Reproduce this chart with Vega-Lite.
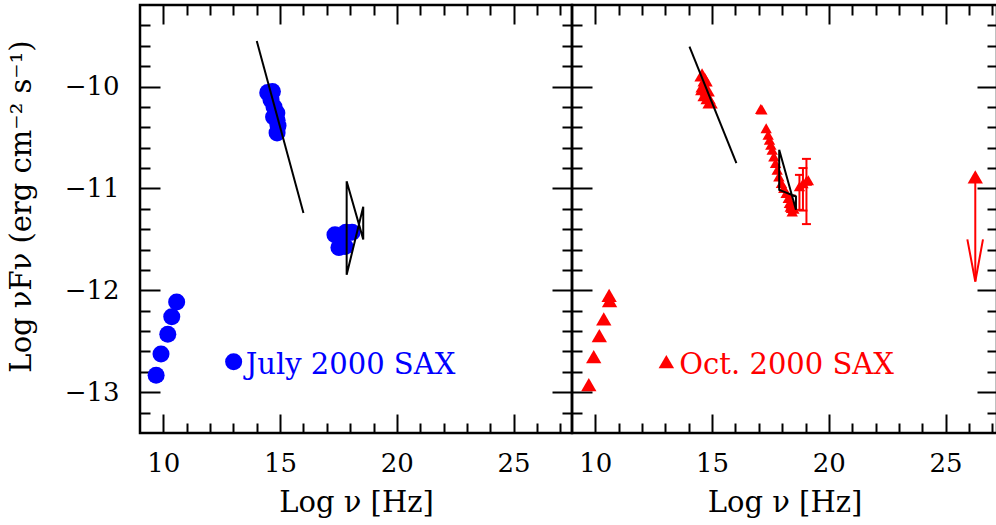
{
  "$schema": "https://vega.github.io/schema/vega-lite/v6.json",
  "background": "white",
  "padding": {"left": 5, "top": 2, "right": 0, "bottom": 0},
  "spacing": 0,
  "bounds": "flush",
  "datasets": {
    "jpts": [
      {"x": 9.69, "y": -12.834}, {"x": 9.9, "y": -12.625}, {"x": 10.19, "y": -12.43}, {"x": 10.36, "y": -12.26}, {"x": 10.57, "y": -12.115},
      {"x": 14.47, "y": -10.06}, {"x": 14.67, "y": -10.05}, {"x": 14.61, "y": -10.131}, {"x": 14.74, "y": -10.2}, {"x": 14.86, "y": -10.26},
      {"x": 14.87, "y": -10.33}, {"x": 14.91, "y": -10.386}, {"x": 14.87, "y": -10.455}, {"x": 14.72, "y": -10.3},
      {"x": 17.35, "y": -11.455}, {"x": 17.61, "y": -11.5}, {"x": 17.82, "y": -11.43}, {"x": 18.08, "y": -11.43}, {"x": 17.52, "y": -11.58}, {"x": 17.78, "y": -11.57}
    ],
    "jleg": [{"x": 13.01, "y": -12.7, "label": "July 2000 SAX"}],
    "jlines": [
      {"seg": "a", "o": 1, "x": 14.0, "y": -9.553}, {"seg": "a", "o": 2, "x": 16.0, "y": -11.242},
      {"seg": "b", "o": 1, "x": 17.85, "y": -10.93}, {"seg": "b", "o": 2, "x": 18.56, "y": -11.5}, {"seg": "b", "o": 3, "x": 18.56, "y": -11.18},
      {"seg": "b", "o": 4, "x": 17.85, "y": -11.847}, {"seg": "b", "o": 5, "x": 17.85, "y": -10.93}
    ],
    "obig": [
      {"x": 9.72, "y": -12.925}, {"x": 9.93, "y": -12.65}, {"x": 10.17, "y": -12.445}, {"x": 10.36, "y": -12.28}, {"x": 10.59, "y": -12.05}, {"x": 10.61, "y": -12.1},
      {"x": 14.57, "y": -9.886}, {"x": 14.7, "y": -9.935}, {"x": 14.615, "y": -9.994}, {"x": 14.79, "y": -10.033}, {"x": 14.7, "y": -10.08},
      {"x": 14.915, "y": -10.15}, {"x": 14.83, "y": -10.11}, {"x": 14.6, "y": -10.02},
      {"x": 26.27, "y": -10.886}
    ],
    "osmall": [
      {"x": 17.08, "y": -10.22}, {"x": 17.13, "y": -10.225},
      {"x": 17.315, "y": -10.409}, {"x": 17.4, "y": -10.475}, {"x": 17.457, "y": -10.524}, {"x": 17.515, "y": -10.573},
      {"x": 17.573, "y": -10.622}, {"x": 17.645, "y": -10.687}, {"x": 17.716, "y": -10.752}, {"x": 17.787, "y": -10.818},
      {"x": 17.859, "y": -10.883}, {"x": 17.97, "y": -10.948}, {"x": 18.07, "y": -10.997}, {"x": 18.17, "y": -11.046},
      {"x": 18.26, "y": -11.095}, {"x": 18.31, "y": -11.144}, {"x": 18.4, "y": -11.193}, {"x": 18.43, "y": -11.226},
      {"x": 18.35, "y": -11.18}, {"x": 18.39, "y": -11.15}, {"x": 18.5, "y": -11.2},
      {"x": 18.74, "y": -10.98}, {"x": 18.89, "y": -10.95}, {"x": 19.04, "y": -10.925}, {"x": 19.12, "y": -10.92}
    ],
    "oerr": [
      {"x": 18.39, "lo": -11.23, "hi": -11.07},
      {"x": 18.74, "lo": -11.21, "hi": -10.867},
      {"x": 18.89, "lo": -11.217, "hi": -10.8},
      {"x": 19.04, "lo": -11.35, "hi": -10.71}
    ],
    "oleg": [{"x": 13.04, "y": -12.7, "label": "Oct. 2000 SAX"}],
    "olines": [
      {"seg": "a", "o": 1, "x": 14.03, "y": -9.609}, {"seg": "a", "o": 2, "x": 16.04, "y": -10.752},
      {"seg": "b", "o": 1, "x": 17.873, "y": -10.62}, {"seg": "b", "o": 2, "x": 18.59, "y": -11.21}, {"seg": "b", "o": 3, "x": 18.59, "y": -11.079},
      {"seg": "b", "o": 4, "x": 17.873, "y": -11.014}, {"seg": "b", "o": 5, "x": 17.873, "y": -10.62}
    ],
    "oarrow": [{"x": 26.27, "y": -10.886, "y2": -11.913}],
    "owings": [{"o": 1, "x": 25.93, "y": -11.5}, {"o": 2, "x": 26.27, "y": -11.913}, {"o": 3, "x": 26.6, "y": -11.5}]
  },
  "hconcat": [
    {
      "width": 432,
      "height": 428,
      "encoding": {
        "x": {"field": "x", "type": "quantitative", "scale": {"domain": [9, 27.5], "nice": false, "zero": false}, "axis": null},
        "y": {"field": "y", "type": "quantitative", "scale": {"domain": [-13.4, -9.2], "nice": false, "zero": false}, "axis": null}
      },
      "layer": [
        {
          "data": {"name": "jpts"},
          "mark": {"type": "point", "opacity": 0},
          "encoding": {
            "x": {"field": "x", "type": "quantitative", "scale": {"domain": [9, 27.5], "nice": false, "zero": false},
                  "axis": {"orient": "bottom", "values": [10, 15, 20, 25], "tickSize": -19, "labelPadding": 36, "title": "Log ν [Hz]", "titleY": 78, "titleBaseline": "alphabetic"}},
            "y": {"field": "y", "type": "quantitative", "scale": {"domain": [-13.4, -9.2], "nice": false, "zero": false},
                  "axis": {"orient": "left", "values": [-13, -12, -11, -10], "tickSize": -20, "labelPadding": 41, "title": "Log νFν (erg cm⁻² s⁻¹)", "titleX": -110, "titleY": 201, "titleAngle": 270, "titleAlign": "center", "titleBaseline": "alphabetic", "titleFontSize": 29}}
          }
        },
        {
          "data": {"name": "jpts"},
          "mark": {"type": "point", "opacity": 0},
          "encoding": {
            "x": {"field": "x", "type": "quantitative", "scale": {"domain": [9, 27.5], "nice": false, "zero": false},
                  "axis": {"orient": "bottom", "values": [11, 12, 13, 14, 16, 17, 18, 19, 21, 22, 23, 24, 26, 27], "tickSize": -10, "labels": false, "title": null}},
            "y": {"field": "y", "type": "quantitative", "scale": {"domain": [-13.4, -9.2], "nice": false, "zero": false},
                  "axis": {"orient": "left", "values": [-13.2, -12.8, -12.6, -12.4, -12.2, -11.8, -11.6, -11.4, -11.2, -10.8, -10.6, -10.4, -10.2, -9.8, -9.6, -9.4], "tickSize": -10, "labels": false, "title": null}}
          }
        },
        {
          "data": {"name": "jpts"},
          "mark": {"type": "point", "opacity": 0},
          "encoding": {
            "x": {"field": "x", "type": "quantitative", "scale": {"domain": [9, 27.5], "nice": false, "zero": false},
                  "axis": {"orient": "top", "values": [10, 15, 20, 25], "tickSize": -19, "labels": false, "title": null}},
            "y": {"field": "y", "type": "quantitative", "scale": {"domain": [-13.4, -9.2], "nice": false, "zero": false},
                  "axis": {"orient": "right", "values": [-13, -12, -11, -10], "tickSize": -20, "labels": false, "title": null}}
          }
        },
        {
          "data": {"name": "jpts"},
          "mark": {"type": "point", "opacity": 0},
          "encoding": {
            "x": {"field": "x", "type": "quantitative", "scale": {"domain": [9, 27.5], "nice": false, "zero": false},
                  "axis": {"orient": "top", "values": [11, 12, 13, 14, 16, 17, 18, 19, 21, 22, 23, 24, 26, 27], "tickSize": -10, "labels": false, "title": null}},
            "y": {"field": "y", "type": "quantitative", "scale": {"domain": [-13.4, -9.2], "nice": false, "zero": false},
                  "axis": {"orient": "right", "values": [-13.2, -12.8, -12.6, -12.4, -12.2, -11.8, -11.6, -11.4, -11.2, -10.8, -10.6, -10.4, -10.2, -9.8, -9.6, -9.4], "tickSize": -10, "labels": false, "title": null}}
          }
        },
        {
          "data": {"name": "jpts"},
          "mark": {"type": "circle", "color": "#0000ff", "size": 290, "opacity": 1}
        },
        {
          "data": {"name": "jlines"},
          "mark": {"type": "line", "color": "black", "strokeWidth": 2},
          "encoding": {"detail": {"field": "seg"}, "order": {"field": "o", "type": "quantitative"}}
        },
        {
          "data": {"name": "jleg"},
          "mark": {"type": "circle", "color": "#0000ff", "size": 290, "opacity": 1}
        },
        {
          "data": {"name": "jleg"},
          "mark": {"type": "text", "align": "left", "baseline": "middle", "dx": 12, "dy": 3, "font": "DejaVu Serif", "fontSize": 29, "color": "#0000ff"},
          "encoding": {"text": {"field": "label"}}
        }
      ],
      "resolve": {"axis": {"x": "independent", "y": "independent"}}
    },
    {
      "width": 425,
      "height": 428,
      "encoding": {
        "x": {"field": "x", "type": "quantitative", "scale": {"domain": [9, 27.2], "nice": false, "zero": false}, "axis": null},
        "y": {"field": "y", "type": "quantitative", "scale": {"domain": [-13.4, -9.2], "nice": false, "zero": false}, "axis": null}
      },
      "layer": [
        {
          "data": {"name": "obig"},
          "mark": {"type": "point", "opacity": 0},
          "encoding": {
            "x": {"field": "x", "type": "quantitative", "scale": {"domain": [9, 27.2], "nice": false, "zero": false},
                  "axis": {"orient": "bottom", "values": [10, 15, 20, 25], "tickSize": -19, "labelPadding": 36, "title": "Log ν [Hz]", "titleY": 78, "titleBaseline": "alphabetic"}},
            "y": {"field": "y", "type": "quantitative", "scale": {"domain": [-13.4, -9.2], "nice": false, "zero": false},
                  "axis": {"orient": "left", "values": [-13, -12, -11, -10], "tickSize": -20, "labels": false, "title": null}}
          }
        },
        {
          "data": {"name": "obig"},
          "mark": {"type": "point", "opacity": 0},
          "encoding": {
            "x": {"field": "x", "type": "quantitative", "scale": {"domain": [9, 27.2], "nice": false, "zero": false},
                  "axis": {"orient": "bottom", "values": [11, 12, 13, 14, 16, 17, 18, 19, 21, 22, 23, 24, 26, 27], "tickSize": -10, "labels": false, "title": null}},
            "y": {"field": "y", "type": "quantitative", "scale": {"domain": [-13.4, -9.2], "nice": false, "zero": false},
                  "axis": {"orient": "left", "values": [-13.2, -12.8, -12.6, -12.4, -12.2, -11.8, -11.6, -11.4, -11.2, -10.8, -10.6, -10.4, -10.2, -9.8, -9.6, -9.4], "tickSize": -10, "labels": false, "title": null}}
          }
        },
        {
          "data": {"name": "obig"},
          "mark": {"type": "point", "opacity": 0},
          "encoding": {
            "x": {"field": "x", "type": "quantitative", "scale": {"domain": [9, 27.2], "nice": false, "zero": false},
                  "axis": {"orient": "top", "values": [10, 15, 20, 25], "tickSize": -19, "labels": false, "title": null}},
            "y": {"field": "y", "type": "quantitative", "scale": {"domain": [-13.4, -9.2], "nice": false, "zero": false},
                  "axis": {"orient": "right", "values": [-13, -12, -11, -10], "tickSize": -20, "labels": false, "title": null}}
          }
        },
        {
          "data": {"name": "obig"},
          "mark": {"type": "point", "opacity": 0},
          "encoding": {
            "x": {"field": "x", "type": "quantitative", "scale": {"domain": [9, 27.2], "nice": false, "zero": false},
                  "axis": {"orient": "top", "values": [11, 12, 13, 14, 16, 17, 18, 19, 21, 22, 23, 24, 26, 27], "tickSize": -10, "labels": false, "title": null}},
            "y": {"field": "y", "type": "quantitative", "scale": {"domain": [-13.4, -9.2], "nice": false, "zero": false},
                  "axis": {"orient": "right", "values": [-13.2, -12.8, -12.6, -12.4, -12.2, -11.8, -11.6, -11.4, -11.2, -10.8, -10.6, -10.4, -10.2, -9.8, -9.6, -9.4], "tickSize": -10, "labels": false, "title": null}}
          }
        },
        {
          "data": {"name": "oerr"},
          "mark": {"type": "rule", "color": "#ff0000", "strokeWidth": 2},
          "encoding": {
            "y": {"field": "hi", "type": "quantitative", "scale": {"domain": [-13.4, -9.2], "nice": false, "zero": false}, "axis": null},
            "y2": {"field": "lo"}
          }
        },
        {
          "data": {"name": "oerr"},
          "mark": {"type": "tick", "orient": "horizontal", "color": "#ff0000", "size": 9, "thickness": 2, "opacity": 1},
          "encoding": {
            "y": {"field": "hi", "type": "quantitative", "scale": {"domain": [-13.4, -9.2], "nice": false, "zero": false}, "axis": null}
          }
        },
        {
          "data": {"name": "oerr"},
          "mark": {"type": "tick", "orient": "horizontal", "color": "#ff0000", "size": 9, "thickness": 2, "opacity": 1},
          "encoding": {
            "y": {"field": "lo", "type": "quantitative", "scale": {"domain": [-13.4, -9.2], "nice": false, "zero": false}, "axis": null}
          }
        },
        {
          "data": {"name": "osmall"},
          "mark": {"type": "point", "shape": "triangle-up", "filled": true, "color": "#ff0000", "size": 130, "opacity": 1}
        },
        {
          "data": {"name": "obig"},
          "mark": {"type": "point", "shape": "triangle-up", "filled": true, "color": "#ff0000", "size": 235, "opacity": 1}
        },
        {
          "data": {"name": "oarrow"},
          "mark": {"type": "rule", "color": "#ff0000", "strokeWidth": 2},
          "encoding": {"y2": {"field": "y2"}}
        },
        {
          "data": {"name": "owings"},
          "mark": {"type": "line", "color": "#ff0000", "strokeWidth": 2},
          "encoding": {"order": {"field": "o", "type": "quantitative"}}
        },
        {
          "data": {"name": "olines"},
          "mark": {"type": "line", "color": "black", "strokeWidth": 2},
          "encoding": {"detail": {"field": "seg"}, "order": {"field": "o", "type": "quantitative"}}
        },
        {
          "data": {"name": "oleg"},
          "mark": {"type": "point", "shape": "triangle-up", "filled": true, "color": "#ff0000", "size": 240, "opacity": 1}
        },
        {
          "data": {"name": "oleg"},
          "mark": {"type": "text", "align": "left", "baseline": "middle", "dx": 13, "dy": 3, "font": "DejaVu Serif", "fontSize": 29, "color": "#ff0000"},
          "encoding": {"text": {"field": "label"}}
        }
      ],
      "resolve": {"axis": {"x": "independent", "y": "independent"}}
    }
  ],
  "config": {
    "view": {"stroke": "black", "strokeWidth": 2.5},
    "axis": {
      "domain": false,
      "grid": false,
      "ticks": true,
      "tickColor": "black",
      "tickWidth": 2,
      "labelFont": "DejaVu Serif",
      "labelFontSize": 26,
      "labelColor": "black",
      "labelFlush": false,
      "labelOverlap": false,
      "titleFont": "DejaVu Serif",
      "titleFontSize": 29,
      "titleFontWeight": "normal",
      "titleColor": "black"
    }
  }
}
